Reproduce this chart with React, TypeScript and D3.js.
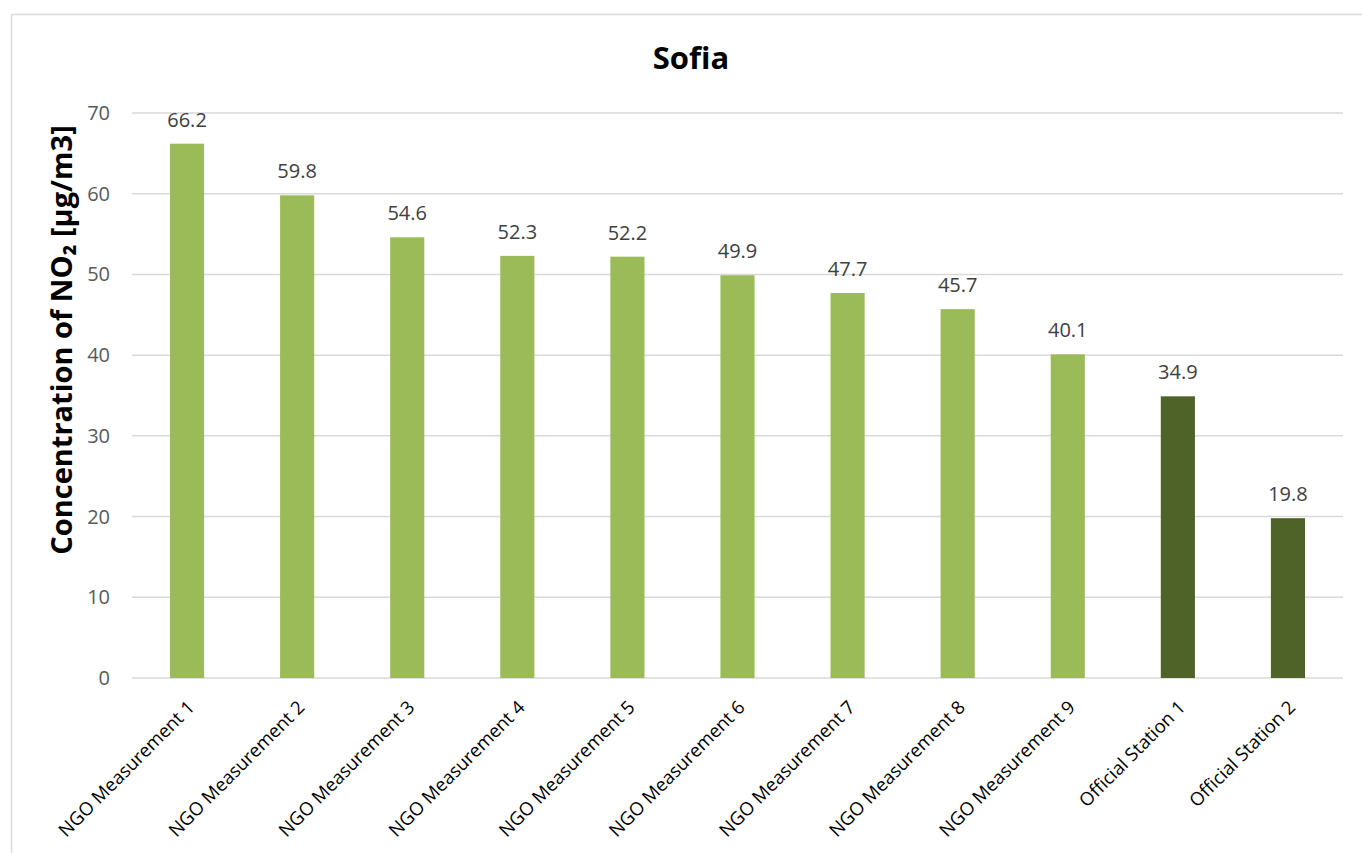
import React from "react";
import * as d3 from "d3";

// Station names along the x axis
const categories: string[] = [
  "NGO Measurement 1",
  "NGO Measurement 2",
  "NGO Measurement 3",
  "NGO Measurement 4",
  "NGO Measurement 5",
  "NGO Measurement 6",
  "NGO Measurement 7",
  "NGO Measurement 8",
  "NGO Measurement 9",
  "Official Station 1",
  "Official Station 2",
];

// Annual mean NO2 concentration, µg/m3
const values: number[] = [66.2, 59.8, 54.6, 52.3, 52.2, 49.9, 47.7, 45.7, 40.1, 34.9, 19.8];

// Source type of each measurement (NGO vs official monitoring station)
const kinds: string[] = ["ngo", "ngo", "ngo", "ngo", "ngo", "ngo", "ngo", "ngo", "ngo", "official", "official"];

const yTicks: number[] = [0, 10, 20, 30, 40, 50, 60, 70];

const W = 1362;
const H = 853;
const margin = { left: 132, right: 19, top: 113, bottom: 175 };
const FONT = "'Open Sans', 'DejaVu Sans', sans-serif";

export default function App() {
  const x = d3
    .scaleBand<string>()
    .domain(categories)
    .range([margin.left, W - margin.right])
    .paddingInner(0.69)
    .paddingOuter(0.345);
  const y = d3.scaleLinear().domain([0, 70]).range([H - margin.bottom, margin.top]);
  const color = d3.scaleOrdinal<string, string>().domain(["ngo", "official"]).range(["#9BBB59", "#4F6228"]);

  return (
    <svg
      width={W}
      height={H}
      style={{ position: "absolute", left: 0, top: 0, background: "#fff" }}
      fontFamily={FONT}
    >
      <rect x={11.5} y={14.5} width={W + 20} height={H + 20} fill="#fff" stroke="#d9d9d9" strokeWidth={1.5} />
      <text x={691} y={69} textAnchor="middle" fontSize={31} fontWeight="bold" fill="#000">
        Sofia
      </text>
      {yTicks.map((t) => (
        <g key={t}>
          <line x1={margin.left} x2={W - margin.right} y1={y(t)} y2={y(t)} stroke="#d9d9d9" strokeWidth={1.5} />
          <text x={110} y={y(t)} dy="0.35em" textAnchor="end" fontSize={20} fill="#595959">
            {t}
          </text>
        </g>
      ))}
      <text
        transform="translate(72, 340) rotate(-90)"
        textAnchor="middle"
        fontSize={29}
        fontWeight="bold"
        fill="#000"
      >
        Concentration of NO₂ [µg/m3]
      </text>
      {categories.map((c, i) => {
        const bx = x(c)!;
        const bw = x.bandwidth();
        const cx = bx + bw / 2;
        return (
          <g key={c}>
            <rect x={bx} y={y(values[i])} width={bw} height={y(0) - y(values[i])} fill={color(kinds[i])} />
            <text x={cx} y={y(values[i]) - 17} textAnchor="middle" fontSize={20} fill="#404040">
              {values[i].toFixed(1)}
            </text>
            <text
              transform={`translate(${cx + 4}, ${y(0) + 26}) rotate(-45)`}
              textAnchor="end"
              dy="0.35em"
              fontSize={18.5}
              fill="#000"
            >
              {c}
            </text>
          </g>
        );
      })}
    </svg>
  );
}
